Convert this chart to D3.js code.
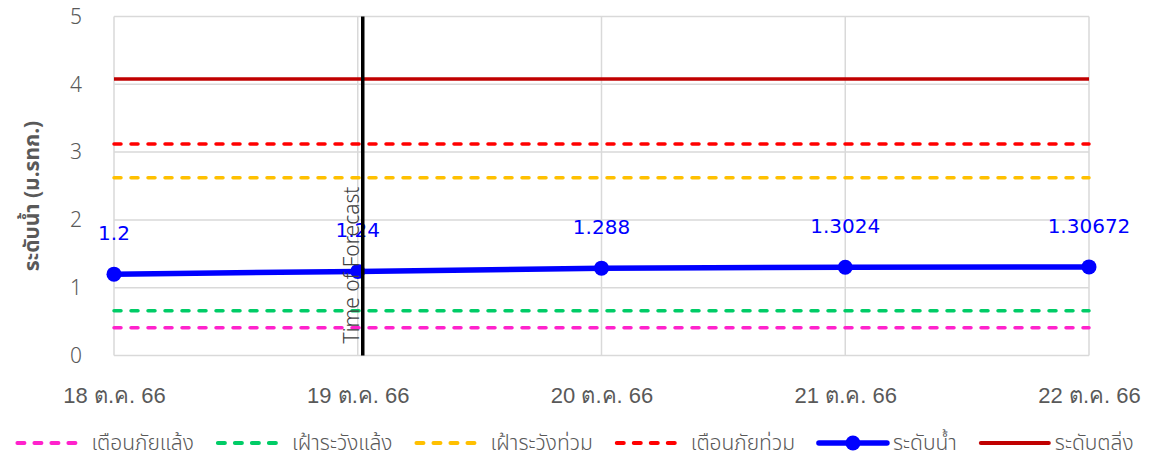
<!DOCTYPE html>
<html>
<head>
<meta charset="utf-8">
<script src="https://cdn.jsdelivr.net/npm/d3@7"></script>
<style>
  html, body { margin: 0; padding: 0; background: #fff; }
  svg { display: block; font-family: "Noto Sans Thai", "Noto Sans", "DejaVu Sans", sans-serif; }
</style>
</head>
<body>
<svg id="chart" width="1149" height="461"></svg>
<script>
// Dates on the x axis
const dates = ["18 ต.ค. 66", "19 ต.ค. 66", "20 ต.ค. 66", "21 ต.ค. 66", "22 ต.ค. 66"];
// Water level (m. MSL) and its labels
const waterLevel = [1.2, 1.24, 1.288, 1.3024, 1.30672];
const waterLabels = ["1.2", "1.24", "1.288", "1.3024", "1.30672"];
// Constant reference levels
const droughtWarning = [0.41, 0.41, 0.41, 0.41, 0.41];   // เตือนภัยแล้ง
const droughtWatch   = [0.66, 0.66, 0.66, 0.66, 0.66];   // เฝ้าระวังแล้ง
const floodWatch     = [2.62, 2.62, 2.62, 2.62, 2.62];   // เฝ้าระวังท่วม
const floodWarning   = [3.12, 3.12, 3.12, 3.12, 3.12];   // เตือนภัยท่วม
const bankLevel      = [4.08, 4.08, 4.08, 4.08, 4.08];   // ระดับตลิ่ง
const yTicks = [0, 1, 2, 3, 4, 5];
const forecastDate = "19 ต.ค. 66";

const svg = d3.select("#chart");
const margin = { left: 114, right: 60, top: 16.5, bottom: 105.5 };
const W = 1149, H = 461;

const x = d3.scalePoint().domain(dates).range([margin.left, 1089]);
const y = d3.scaleLinear().domain([0, 5]).range([H - margin.bottom, margin.top]);

const gridColor = "#d9d9d9";
const textColor = "#595959";

// Horizontal gridlines
svg.append("g")
  .selectAll("line").data(yTicks).join("line")
  .attr("x1", margin.left).attr("x2", 1089)
  .attr("y1", d => y(d)).attr("y2", d => y(d))
  .attr("stroke", gridColor).attr("stroke-width", 1.5);

// Vertical gridlines
svg.append("g")
  .selectAll("line").data(dates).join("line")
  .attr("x1", d => x(d)).attr("x2", d => x(d))
  .attr("y1", y(0)).attr("y2", y(5))
  .attr("stroke", gridColor).attr("stroke-width", 1.5);

// Y axis
const yAxis = svg.append("g")
  .attr("transform", `translate(${margin.left},0)`)
  .call(d3.axisLeft(y).tickValues(yTicks).tickSize(0).tickPadding(32).tickFormat(d3.format("d")));
yAxis.select(".domain").remove();
yAxis.selectAll("text").attr("fill", textColor).style("font-size", "21px")
  .style("font-family", "'Noto Sans', sans-serif").style("font-weight", "300");

// X axis
const xAxis = svg.append("g")
  .attr("transform", `translate(0,${y(0)})`)
  .call(d3.axisBottom(x).tickSize(0).tickPadding(32));
xAxis.select(".domain").remove();
xAxis.selectAll("text").attr("fill", textColor).style("font-size", "22px").style("font-weight", "300");

// Y axis title
svg.append("text")
  .attr("transform", `translate(32,${(y(0) + y(5)) / 2 + 10}) rotate(-90)`)
  .attr("text-anchor", "middle")
  .attr("dy", "0.35em")
  .attr("fill", textColor)
  .style("font-size", "21px").style("font-weight", "bold")
  .text("ระดับน้ำ (ม.รทก.)");

// Reference level lines
const dashPattern = "7,10";
const refSeries = [
  { name: "เตือนภัยแล้ง", values: droughtWarning, color: "#ff22cc" },
  { name: "เฝ้าระวังแล้ง", values: droughtWatch, color: "#00cc66" },
  { name: "เฝ้าระวังท่วม", values: floodWatch, color: "#ffc000" },
  { name: "เตือนภัยท่วม", values: floodWarning, color: "#ff0000" },
];
const line = d3.line().x((d, i) => x(dates[i])).y(d => y(d));

refSeries.forEach(s => {
  svg.append("path").datum(s.values)
    .attr("d", line).attr("fill", "none")
    .attr("stroke", s.color).attr("stroke-width", 3.5)
    .attr("stroke-linecap", "round")
    .attr("stroke-dasharray", dashPattern);
});

svg.append("path").datum(bankLevel)
  .attr("d", line).attr("fill", "none")
  .attr("stroke", "#c00000").attr("stroke-width", 3.5);

// Water level series
svg.append("path").datum(waterLevel)
  .attr("d", line).attr("fill", "none")
  .attr("stroke", "#0000ff").attr("stroke-width", 5.5);
svg.append("g").selectAll("circle").data(waterLevel).join("circle")
  .attr("cx", (d, i) => x(dates[i])).attr("cy", d => y(d))
  .attr("r", 7.5).attr("fill", "#0000ff");
svg.append("g").selectAll("text").data(waterLevel).join("text")
  .attr("x", (d, i) => x(dates[i])).attr("y", d => y(d) - 34)
  .attr("text-anchor", "middle")
  .attr("fill", "#0000ff")
  .style("font-size", "20px").style("font-family", "'DejaVu Sans', sans-serif")
  .text((d, i) => waterLabels[i]);

// Forecast marker
const fx = x(forecastDate) + 5;
svg.append("line")
  .attr("x1", fx).attr("x2", fx).attr("y1", y(5)).attr("y2", y(0))
  .attr("stroke", "#000").attr("stroke-width", 3.5);
svg.append("text")
  .attr("transform", `translate(${fx - 4},${y(0) - 12}) rotate(-90)`)
  .attr("fill", "#404040")
  .style("font-size", "21px").style("font-family", "'Noto Sans', sans-serif").style("font-weight", "300")
  .text("Time of Forecast");

// Legend
const legendItems = [
  ...refSeries.map(s => ({ name: s.name, color: s.color, dash: dashPattern, marker: false, width: 4 })),
  { name: "ระดับน้ำ", color: "#0000ff", dash: null, marker: true, width: 5.5 },
  { name: "ระดับตลิ่ง", color: "#c00000", dash: null, marker: false, width: 4 },
];
const legend = svg.append("g");
const ly = 443;
let lx = 0;
legendItems.forEach(it => {
  const g = legend.append("g").attr("transform", `translate(${lx},0)`);
  g.append("line").attr("x1", 2).attr("x2", 70).attr("y1", ly).attr("y2", ly)
    .attr("stroke", it.color).attr("stroke-width", it.width)
    .attr("stroke-linecap", "round")
    .attr("stroke-dasharray", it.dash);
  if (it.marker) g.append("circle").attr("cx", 36).attr("cy", ly).attr("r", 7.5).attr("fill", it.color);
  const t = g.append("text").attr("x", 76).attr("y", ly).attr("dy", "0.35em")
    .attr("fill", textColor).style("font-size", "21px").style("font-weight", "300").text(it.name);
  lx += 76 + t.node().getComputedTextLength() + 22;
});
const total = lx - 22;
legend.attr("transform", `translate(${(W - total) / 2},0)`);
</script>
</body>
</html>
